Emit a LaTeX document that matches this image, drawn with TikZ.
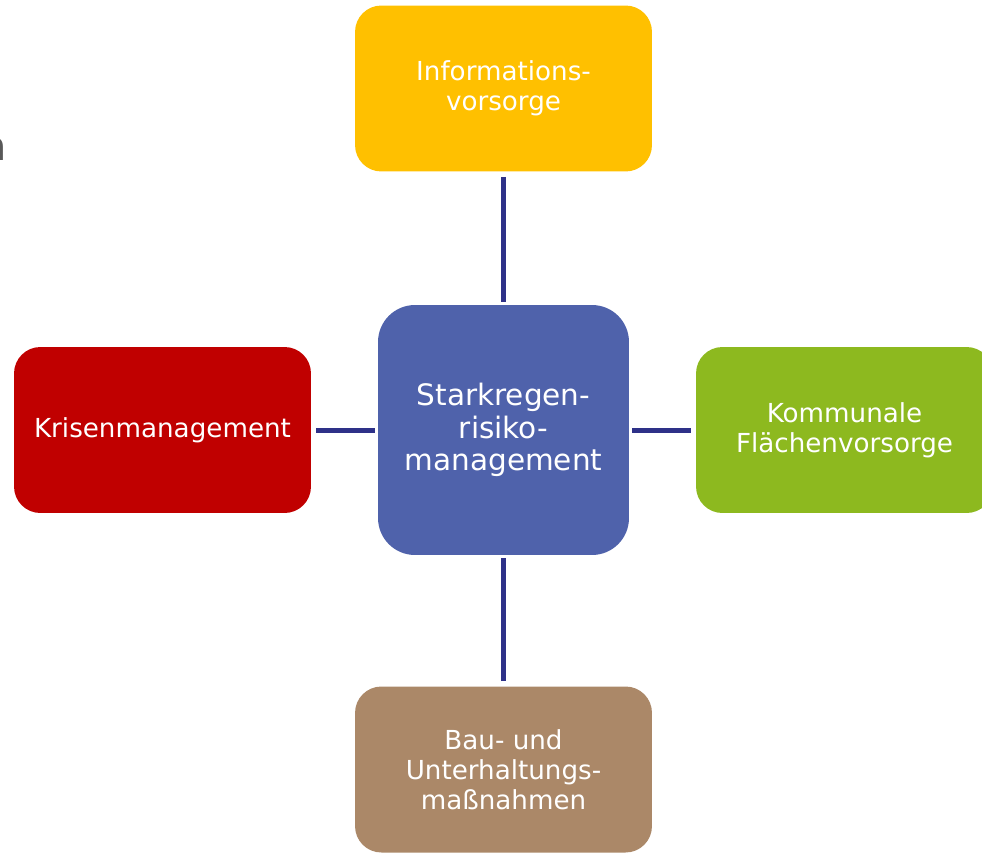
\documentclass[tikz,border=0pt]{standalone}
\usepackage{fontspec}
\setmainfont{DejaVu Sans}
\definecolor{infoyellow}{HTML}{FFC000}
\definecolor{srmblue}{HTML}{4F62AB}
\definecolor{krisred}{HTML}{C00000}
\definecolor{flaechgreen}{HTML}{8DB91F}
\definecolor{baubrown}{HTML}{AB8868}
\definecolor{linkblue}{HTML}{2E3188}
\tikzset{
box/.style={rounded corners=15pt,minimum width=5.94cm,minimum height=3.32cm,text=white,align=center,inner sep=0pt,font=\fontsize{14.9}{17}\selectfont},
hub/.style={box,rounded corners=21pt,minimum width=5.02cm,minimum height=5cm,fill=srmblue,font=\fontsize{16.8}{18.6}\selectfont},
link/.style={draw=linkblue,line width=2.85pt,shorten <=0.1cm,shorten >=0.05cm}}
\begin{document}
\begin{tikzpicture}[x=0.02cm,y=-0.02cm]
\useasboundingbox(0,0)rectangle(982,852);
\node[anchor=base east,inner sep=0pt,text=black!65,font=\fontsize{22.7}{26}\selectfont](cut)at(7.5,160){n};
\node[hub](srm)at(503.5,430){Starkregen-\\risiko-\\management};
\node[box,fill=infoyellow](info)at(503.5,88.5){Informations-\\vorsorge};
\node[box,fill=krisred](kris)at(162.5,430){Krisenmanagement};
\node[box,fill=flaechgreen](flaech)at(844.5,430){Kommunale\\Flächenvorsorge};
\node[box,fill=baubrown](bau)at(503.5,769.5){Bau- und\\Unterhaltungs-\\maßnahmen};
\foreach\n in{info,kris,flaech,bau}{
\draw[link](\n)--(srm);}
\end{tikzpicture}
\end{document}
